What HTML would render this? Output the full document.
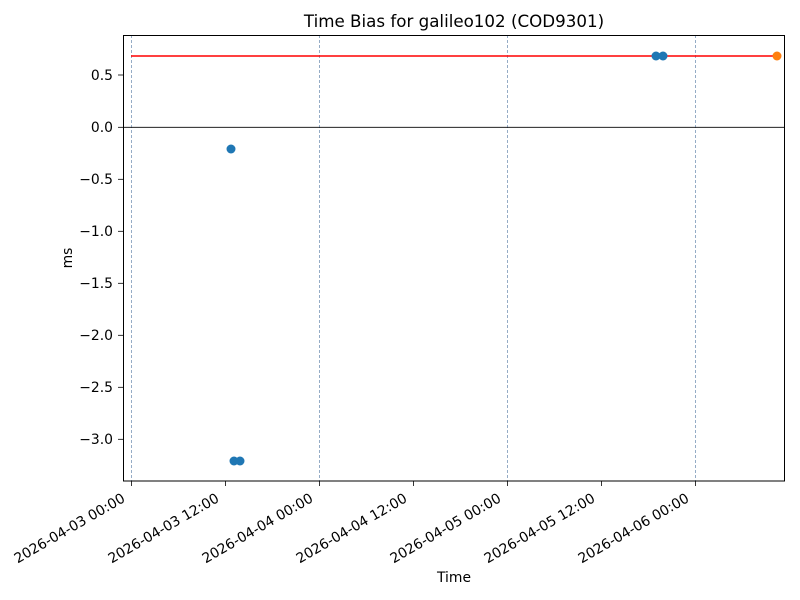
<!DOCTYPE html>
<html><head><meta charset="utf-8"><style>body{margin:0;background:#fff}svg{display:block}text{font-family:"DejaVu Sans","Liberation Sans",sans-serif;font-size:13.9px;fill:#000}</style></head><body>
<svg width="800" height="600" xmlns="http://www.w3.org/2000/svg">
<rect width="800" height="600" fill="#fff"/>
<g stroke="#5a7fa8" stroke-width="0.8" stroke-dasharray="3,2" opacity="0.8">
<line x1="131.5" y1="35" x2="131.5" y2="481"/><line x1="319.5" y1="35" x2="319.5" y2="481"/><line x1="507.5" y1="35" x2="507.5" y2="481"/><line x1="695.5" y1="35" x2="695.5" y2="481"/>
</g>
<line x1="123" y1="127.3" x2="785" y2="127.3" stroke="#000" stroke-width="0.8"/>
<line x1="131" y1="56" x2="777" y2="56" stroke="#ff0000" stroke-width="1.5"/>
<g fill="#1f77b4"><circle cx="231" cy="149" r="4.5"/><circle cx="234" cy="461" r="4.5"/><circle cx="240" cy="461" r="4.5"/><circle cx="656" cy="56" r="4.5"/><circle cx="663" cy="56" r="4.5"/></g>
<circle cx="777" cy="56" r="4.5" fill="#ff7f0e"/>
<rect x="123.5" y="35.5" width="661" height="445.5" fill="none" stroke="#000" stroke-width="1"/>
<g stroke="#000" stroke-width="0.8">
<line x1="118" y1="75" x2="123" y2="75"/><line x1="118" y1="127.3" x2="123" y2="127.3"/><line x1="118" y1="179.3" x2="123" y2="179.3"/><line x1="118" y1="231.3" x2="123" y2="231.3"/><line x1="118" y1="283.3" x2="123" y2="283.3"/><line x1="118" y1="335.3" x2="123" y2="335.3"/><line x1="118" y1="387.3" x2="123" y2="387.3"/><line x1="118" y1="439.3" x2="123" y2="439.3"/>
<line x1="131.5" y1="481" x2="131.5" y2="486"/><line x1="225.5" y1="481" x2="225.5" y2="486"/><line x1="319.5" y1="481" x2="319.5" y2="486"/><line x1="413.5" y1="481" x2="413.5" y2="486"/><line x1="507.5" y1="481" x2="507.5" y2="486"/><line x1="601.5" y1="481" x2="601.5" y2="486"/><line x1="695.5" y1="481" x2="695.5" y2="486"/>
</g>
<g text-anchor="end">
<text x="113" y="79.8">0.5</text><text x="113" y="132.1">0.0</text><text x="113" y="184.1">−0.5</text><text x="113" y="236.1">−1.0</text><text x="113" y="288.1">−1.5</text><text x="113" y="340.1">−2.0</text><text x="113" y="392.1">−2.5</text><text x="113" y="444.1">−3.0</text>
<text transform="translate(126,501) rotate(-30)">2026-04-03 00:00</text>
<text transform="translate(220,501) rotate(-30)">2026-04-03 12:00</text>
<text transform="translate(314,501) rotate(-30)">2026-04-04 00:00</text>
<text transform="translate(408,501) rotate(-30)">2026-04-04 12:00</text>
<text transform="translate(502,501) rotate(-30)">2026-04-05 00:00</text>
<text transform="translate(596,501) rotate(-30)">2026-04-05 12:00</text>
<text transform="translate(690,501) rotate(-30)">2026-04-06 00:00</text>
</g>
<text x="454" y="582" text-anchor="middle">Time</text>
<text transform="translate(72,258) rotate(-90)" text-anchor="middle">ms</text>
<text x="454" y="27" text-anchor="middle" style="font-size:16.7px">Time Bias for galileo102 (COD9301)</text>
</svg>
</body></html>
